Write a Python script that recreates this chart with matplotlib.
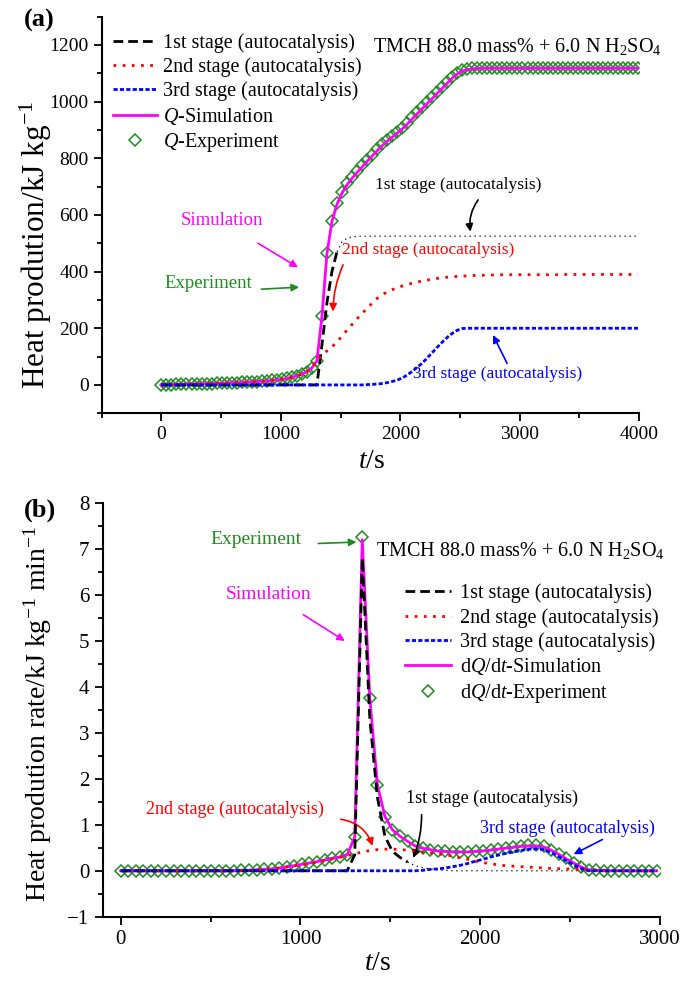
import numpy as np
import matplotlib
matplotlib.use("Agg")
import matplotlib.pyplot as plt
from matplotlib.ticker import MultipleLocator

plt.rcParams['font.family'] = ['Liberation Serif', 'DejaVu Serif']
plt.rcParams['mathtext.fontset'] = 'custom'
plt.rcParams['mathtext.rm'] = 'Liberation Serif'
plt.rcParams['mathtext.it'] = 'Liberation Serif:italic'
plt.rcParams['mathtext.bf'] = 'Liberation Serif:bold'

# ---- panel (a): heat production, sampled every 42 s ----
t_a = np.arange(0, 3991, 42)

q_exp = [0, 0.5, 1, 1.5, 2, 2.5, 3, 3.5, 4, 4.5,
         5, 5.5, 6, 7, 7.5, 8, 9, 10, 11, 12,
         13, 14, 16, 18, 20, 23, 27, 32, 38, 47,
         60, 85, 243, 465, 580, 641, 682, 712, 735, 755,
         775, 795, 813, 832, 850, 866, 880, 893, 908, 925,
         944, 962, 980, 998, 1016, 1034, 1052, 1070, 1087, 1101,
         1110, 1115, 1118, 1119, 1120, 1120, 1120, 1120, 1120, 1120] + [1120] * 26

q_sim = [0, 0.5, 1, 1.5, 2, 2.5, 3, 3.5, 4, 4.5,
         5, 5.5, 6, 7, 7.5, 8, 9, 10, 11, 12,
         13, 14, 16, 18, 20, 23, 27, 32, 38, 47,
         60, 85, 240, 462, 577, 637, 677, 706, 729, 749,
         769, 789, 807, 826, 844, 860, 874, 888, 903, 920,
         939, 957, 975, 993, 1011, 1029, 1047, 1065, 1083, 1098,
         1108, 1113, 1116, 1117, 1118, 1118, 1118, 1118, 1118, 1118] + [1118] * 26

s1_a = [0] * 32 + [140, 290, 400, 470, 505, 518, 522, 524] + [525] * 56

s2_a = [0, 0.5, 1, 1.5, 2, 2.5, 3, 3.5, 4, 4.5,
        5, 5.5, 6, 7, 7.5, 8, 9, 10, 11, 12,
        13, 14, 16, 18, 20, 23, 27, 32, 38, 47,
        60, 85, 105, 120, 134, 152, 172, 193, 213, 233,
        252, 270, 288, 305, 318, 328, 336, 343, 349, 354,
        359, 363, 367, 370, 373, 376, 378, 380, 382, 383,
        384, 385, 386, 387, 387, 388, 388, 388, 389, 389] + [389] * 10 + [390] * 16

s3_a = [0] * 41 + [1, 2, 3, 5, 8, 12, 17, 24, 35,
                   48, 62, 77, 95, 114, 133, 151, 168, 182, 193,
                   199] + [200] * 35

# ---- panel (b): heat production rate ----
t_b = np.arange(0, 2983, 42)

dq_exp = [0] * 16 + [0.01, 0.01, 0.02, 0.03, 0.04, 0.06, 0.09, 0.11, 0.14, 0.17, 0.2, 0.23, 0.27, 0.3,
                     0.35, 0.73, 7.25, 3.75, 1.87, 1.18, 0.89, 0.75, 0.64, 0.54,
                     0.49, 0.46, 0.43, 0.42, 0.41, 0.41, 0.41, 0.42, 0.43, 0.45,
                     0.47, 0.49, 0.51, 0.53, 0.55, 0.56, 0.53, 0.46, 0.37, 0.27,
                     0.17, 0.08, 0.02, 0.01] + [0] * 8

dq_sim = [0] * 16 + [0.01, 0.01, 0.02, 0.03, 0.04, 0.06, 0.09, 0.11, 0.14, 0.17, 0.2, 0.23, 0.27, 0.3,
                     0.35, 0.73, 7.2, 3.75, 1.87, 1.18, 0.89, 0.75, 0.64, 0.54,
                     0.49, 0.46, 0.43, 0.42, 0.41, 0.41, 0.41, 0.42, 0.43, 0.45,
                     0.47, 0.49, 0.51, 0.53, 0.54, 0.54, 0.52, 0.45, 0.36, 0.26,
                     0.17, 0.08, 0.02, 0.01] + [0] * 8

s1_b = [0] * 31 + [0.35, 6.8, 3.3, 1.6, 0.75, 0.42, 0.29, 0.19, 0.11,
                   0.07, 0.04, 0.02, 0.01] + [0] * 28

s2_b = [0] * 16 + [0.01, 0.01, 0.02, 0.03, 0.04, 0.06, 0.08, 0.11, 0.13, 0.16, 0.19, 0.22, 0.26, 0.29,
                   0.33, 0.37, 0.41, 0.44, 0.46, 0.47, 0.47, 0.46, 0.45, 0.43,
                   0.41, 0.39, 0.37, 0.35, 0.32, 0.28, 0.25, 0.21, 0.18, 0.15,
                   0.13, 0.11, 0.10, 0.09, 0.08, 0.07, 0.06, 0.05, 0.045, 0.04,
                   0.035, 0.03, 0.02, 0.015, 0.01, 0.01, 0.005, 0.005, 0, 0, 0, 0]

s3_b = [0] * 40 + [0.01, 0.03, 0.04, 0.06, 0.09, 0.12, 0.16, 0.21, 0.25, 0.30,
                   0.34, 0.38, 0.41, 0.44, 0.47, 0.48, 0.46, 0.40, 0.31, 0.22,
                   0.13, 0.05] + [0] * 10

GREEN = '#1e8c1e'
MAG = '#ff00ff'
DASH1 = (0, (3.5, 1.8))
DOT2 = (0, (1, 2.3))
DASH3 = (0, (1.5, 0.8))


def style_axes(ax, size):
    ax.spines['top'].set_visible(False)
    ax.spines['right'].set_visible(False)
    for s in ('left', 'bottom'):
        ax.spines[s].set_linewidth(1.5)
    ax.tick_params(which='major', direction='out', length=6, width=1.3, labelsize=size)
    ax.tick_params(which='minor', direction='out', length=3.5, width=1.3)


def arrow(ax, start, end, color, rad=0.0):
    ax.annotate('', xy=end, xytext=start,
                arrowprops=dict(arrowstyle='-|>', color=color, lw=1.2, mutation_scale=11,
                                shrinkA=0, shrinkB=0, connectionstyle='arc3,rad=%s' % rad))


fig = plt.figure(figsize=(6.85, 9.83), dpi=100)

# ================= (a) =================
ax1 = fig.add_axes([0.1485, 0.5796, 0.7844, 0.4035])
s1_a = np.array(s1_a)
h_exp, = ax1.plot(t_a, q_exp, ls='none', marker='D', ms=6, mfc='none', mec=GREEN, mew=1.1,
                  label='$Q$-Experiment', zorder=2)
h_sim, = ax1.plot(t_a, q_sim, color=MAG, lw=2, label='$Q$-Simulation', zorder=3)
h1, = ax1.plot(t_a[:36], s1_a[:36], color='k', lw=2, ls=DASH1, label='1st stage (autocatalysis)', zorder=4)
ax1.plot(t_a[35:], s1_a[35:], color='k', lw=0.9, ls=(0, (1, 3)), zorder=4)
h2, = ax1.plot(t_a, s2_a, color='red', lw=2, ls=DOT2, label='2nd stage (autocatalysis)', zorder=4)
h3, = ax1.plot(t_a, s3_a, color='blue', lw=2, ls=DASH3, label='3rd stage (autocatalysis)', zorder=4)

ax1.set_xlim(-500, 4000)
ax1.set_ylim(-100, 1300)
ax1.xaxis.set_major_locator(MultipleLocator(1000))
ax1.xaxis.set_minor_locator(MultipleLocator(500))
ax1.yaxis.set_major_locator(MultipleLocator(200))
ax1.yaxis.set_minor_locator(MultipleLocator(100))
style_axes(ax1, 14)
ax1.set_xlabel('$t$/s', fontsize=20)
ax1.set_ylabel('Heat prodution/kJ kg$^{-1}$', fontsize=22.5)
ax1.xaxis.set_label_coords(0.503, -0.09)
ax1.yaxis.set_label_coords(-0.089, 0.425)

ax1.legend(handles=[h1, h2, h3, h_sim, h_exp], loc='upper left', bbox_to_anchor=(0.021, 0.958),
           frameon=False, fontsize=14.5, handlelength=2.2, handletextpad=0.3,
           labelspacing=0.22, borderpad=0, borderaxespad=0)

ax1.text(1775, 1195, 'TMCH 88.0 mass% + 6.0 N H$_2$SO$_4$', fontsize=14.5, va='center', ha='left')
ax1.text(1786, 706, '1st stage (autocatalysis)', fontsize=12.5, va='center', ha='left')
arrow(ax1, (2652, 653), (2588, 541), 'k', rad=0.2)
ax1.text(505, 580, 'Simulation', fontsize=13.5, color=MAG, va='center', ha='center')
arrow(ax1, (809, 500), (1144, 415), MAG)
ax1.text(390, 359, 'Experiment', fontsize=13.5, color=GREEN, va='center', ha='center')
arrow(ax1, (837, 338), (1153, 345), GREEN)
ax1.text(1516, 476, '2nd stage (autocatalysis)', fontsize=12.5, color='red', va='center', ha='left')
arrow(ax1, (1521, 424), (1437, 259), 'red', rad=0.1)
ax1.text(2107, 39, '3rd stage (autocatalysis)', fontsize=12.5, color='blue', va='center', ha='left')
arrow(ax1, (2895, 76), (2777, 176), 'blue')

fig.text(0.058, 0.979, '(a)', fontsize=19, fontweight='bold', ha='center', va='center')

# ================= (b) =================
ax2 = fig.add_axes([0.1499, 0.0674, 0.8136, 0.4209])
s1_b = np.array(s1_b)
g_exp, = ax2.plot(t_b, dq_exp, ls='none', marker='D', ms=6.3, mfc='none', mec=GREEN, mew=1.1,
                  label='d$Q$/d$t$-Experiment', zorder=2)
g_sim, = ax2.plot(t_b, dq_sim, color=MAG, lw=2, label='d$Q$/d$t$-Simulation', zorder=3)
g1, = ax2.plot(t_b[:39], s1_b[:39], color='k', lw=2, ls=DASH1, label='1st stage (autocatalysis)', zorder=4)
ax2.plot(t_b[38:], s1_b[38:], color='k', lw=0.9, ls=(0, (1, 3)), zorder=4)
g2, = ax2.plot(t_b, s2_b, color='red', lw=2, ls=DOT2, label='2nd stage (autocatalysis)', zorder=4)
g3, = ax2.plot(t_b, s3_b, color='blue', lw=2, ls=DASH3, label='3rd stage (autocatalysis)', zorder=4)

ax2.set_xlim(-100, 3000)
ax2.set_ylim(-1, 8)
ax2.xaxis.set_major_locator(MultipleLocator(1000))
ax2.xaxis.set_minor_locator(MultipleLocator(500))
ax2.yaxis.set_major_locator(MultipleLocator(1))
ax2.yaxis.set_minor_locator(MultipleLocator(0.5))
style_axes(ax2, 15)
ax2.set_xlabel('$t$/s', fontsize=20)
ax2.set_ylabel('Heat prodution rate/kJ kg$^{-1}$ min$^{-1}$', fontsize=20)
ax2.xaxis.set_label_coords(0.494, -0.083)
ax2.yaxis.set_label_coords(-0.087, 0.49)

ax2.legend(handles=[g1, g2, g3, g_sim, g_exp], loc='upper left', bbox_to_anchor=(0.542, 0.805),
           frameon=False, fontsize=14.5, handlelength=2.3, handletextpad=0.45,
           labelspacing=0.22, borderpad=0, borderaxespad=0)

ax2.text(1420, 6.96, 'TMCH 88.0 mass% + 6.0 N H$_2$SO$_4$', fontsize=14.5, va='center', ha='left')
ax2.text(752, 7.2, 'Experiment', fontsize=14, color=GREEN, va='center', ha='center')
arrow(ax2, (1099, 7.12), (1312, 7.15), GREEN)
ax2.text(825, 6.0, 'Simulation', fontsize=14, color=MAG, va='center', ha='center')
arrow(ax2, (1016, 5.57), (1247, 5.0), MAG)
ax2.text(636, 1.34, '2nd stage (autocatalysis)', fontsize=13, color='red', va='center', ha='center')
arrow(ax2, (1224, 1.12), (1401, 0.54), 'red', rad=-0.3)
ax2.text(1587, 1.58, '1st stage (autocatalysis)', fontsize=13, va='center', ha='left')
arrow(ax2, (1674, 1.22), (1627, 0.28), 'k', rad=-0.1)
ax2.text(1998, 0.93, '3rd stage (autocatalysis)', fontsize=13, color='blue', va='center', ha='left')
arrow(ax2, (2680, 0.68), (2520, 0.36), 'blue')

fig.text(0.058, 0.481, '(b)', fontsize=19, fontweight='bold', ha='center', va='center')

fig.savefig('out.png', dpi=100)
